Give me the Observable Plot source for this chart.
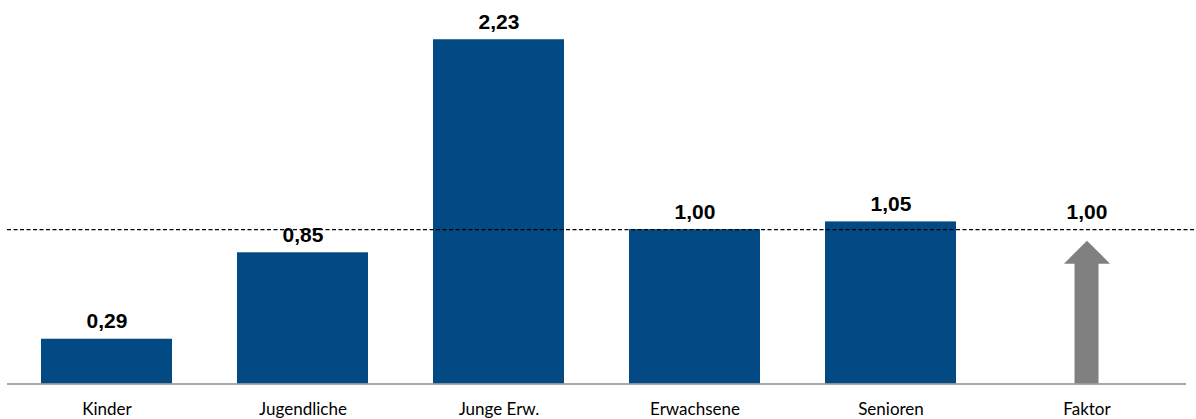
<!DOCTYPE html>
<html>
<head>
<meta charset="utf-8">
<script src="https://cdn.jsdelivr.net/npm/d3@7"></script>
<script src="https://cdn.jsdelivr.net/npm/@observablehq/plot@0.6"></script>
<style>
  html, body { margin: 0; padding: 0; background: #fff; }
  #chart svg { display: block; }
</style>
</head>
<body>
<div id="chart"></div>
<script>
// Age groups and their relative factor (reference group = 1,00)
const categories = ["Kinder", "Jugendliche", "Junge Erw.", "Erwachsene", "Senioren", "Faktor"];
const values = [0.29, 0.85, 2.23, 1.00, 1.05, 1.00];
const referenceValue = 1.00;

const rows = categories.map((c, i) => ({category: c, value: values[i]}));
const barRows = rows.filter(d => d.category !== "Faktor");
const arrowRows = rows.filter(d => d.category === "Faktor");

const fmt = d3.format(".2f");
const label = v => fmt(v).replace(".", ",");

// Arrowhead: tip at the origin, base below it
const arrowHead = {
  draw(ctx, size) {
    const r = Math.sqrt(size / Math.PI);
    ctx.moveTo(0, 0);
    ctx.lineTo(r, r);
    ctx.lineTo(-r, r);
    ctx.closePath();
  }
};

const chart = Plot.plot({
  width: 1196,
  height: 419,
  marginLeft: 7,
  marginRight: 0,
  marginTop: 13,
  marginBottom: 35.5,
  x: {
    domain: categories,
    range: [7, 1186],
    paddingInner: 1 / 3,
    paddingOuter: 1 / 6,
    axis: null
  },
  y: {domain: [0, 2.4], axis: null},
  marks: [
    Plot.barY(barRows, {x: "category", y: "value", fill: "#034A84"}),
    // Faktor arrow: shaft + head
    Plot.rectY(arrowRows, {x: "category", y1: 0, y2: "value", fill: "#808080",
      insetLeft: 53.5, insetRight: 53.5, insetTop: 33}),
    Plot.dot(arrowRows, {x: "category", y: "value", symbol: arrowHead, r: 23,
      fill: "#808080", stroke: "none", dy: 11}),
    Plot.ruleY([0], {stroke: "#8c8c8c", strokeWidth: 1.3, insetRight: 10}),
    Plot.ruleY([referenceValue], {stroke: "#000", strokeWidth: 1.2, strokeDasharray: "4,2.5"}),
    Plot.text(rows, {x: "category", y: "value", text: d => label(d.value),
      fontFamily: "Liberation Sans, Arial, sans-serif", fontWeight: "bold", fontSize: 21,
      fill: "#000", dy: -17.7}),
    Plot.text(rows, {x: "category", y: 0, text: "category",
      fontFamily: "Lato, sans-serif", fontSize: 17, fill: "#000", dy: 25.4})
  ]
});

document.getElementById("chart").appendChild(chart);
</script>
</body>
</html>
